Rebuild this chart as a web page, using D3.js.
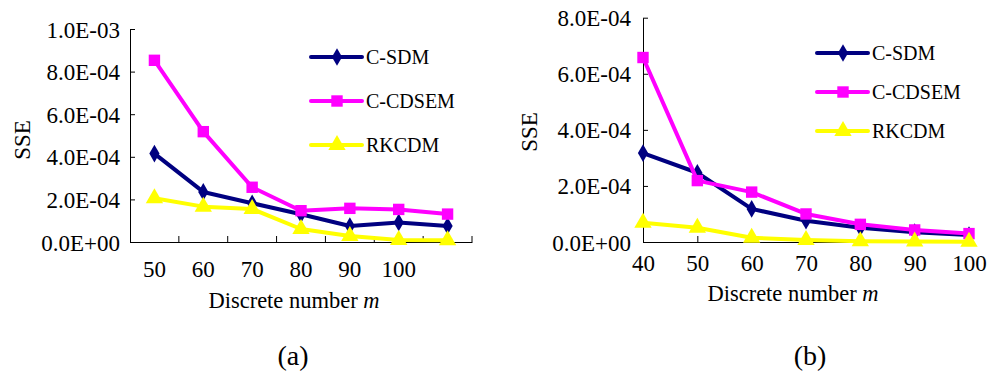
<!DOCTYPE html>
<html>
<head>
<meta charset="utf-8">
<script src="https://cdn.jsdelivr.net/npm/d3@7"></script>
<style>
  body { margin: 0; background: #fff; }
</style>
</head>
<body>
<svg id="chart" width="996" height="373"></svg>
<script>
// panel (a)
var catsA = ["50", "60", "70", "80", "90", "100", ""];
var sdmA = [4.15e-4, 2.35e-4, 1.82e-4, 1.30e-4, 0.75e-4, 0.92e-4, 0.75e-4];
var cdsemA = [8.53e-4, 5.18e-4, 2.57e-4, 1.47e-4, 1.58e-4, 1.53e-4, 1.31e-4];
var rkcdmA = [2.05e-4, 1.66e-4, 1.55e-4, 0.61e-4, 0.28e-4, 0.09e-4, 0.08e-4];
var yTicksA = [0, 2e-4, 4e-4, 6e-4, 8e-4, 1e-3];

// panel (b)
var catsB = [40, 50, 60, 70, 80, 90, 100];
var sdmB = [3.17e-4, 2.47e-4, 1.18e-4, 0.76e-4, 0.51e-4, 0.35e-4, 0.25e-4];
var cdsemB = [6.58e-4, 2.19e-4, 1.78e-4, 1.00e-4, 0.63e-4, 0.43e-4, 0.30e-4];
var rkcdmB = [0.69e-4, 0.51e-4, 0.15e-4, 0.07e-4, 0.03e-4, 0.02e-4, 0.01e-4];
var yTicksB = [0, 2e-4, 4e-4, 6e-4, 8e-4];

var seriesNames = ["C-SDM", "C-CDSEM", "RKCDM"];
var colors = ["#000080", "#ff00ff", "#ffff00"];
var symbols = [d3.symbolDiamond, d3.symbolSquare, d3.symbolTriangle];
var symSizes = [90, 130, 130];
var ff = "'Liberation Serif', 'Times New Roman', serif";

var svg = d3.select("#chart");

function sciFmt(v) {
  if (v === 0) return "0.0E+00";
  var e = Math.floor(Math.log10(v) + 1e-9);
  var m = v / Math.pow(10, e);
  var es = (e < 0 ? "-" : "+") + (Math.abs(e) < 10 ? "0" : "") + Math.abs(e);
  return m.toFixed(1) + "E" + es;
}

function drawPanel(p) {
  var g = svg.append("g");
  var y = d3.scaleLinear().domain([0, p.yMax]).range([242, p.yTop]);

  // y axis
  var yAx = g.append("g")
    .attr("transform", "translate(" + p.x0 + ",0)")
    .call(d3.axisLeft(y).tickValues(p.yTicks).tickSizeInner(-5).tickSizeOuter(0).tickPadding(p.yPad).tickFormat(sciFmt));
  yAx.selectAll("text").style("font-size", "23px").style("font-family", ff).attr("dy", "0.35em");

  // x axis
  var xAx = g.append("g").attr("transform", "translate(0,242)");
  if (p.band) {
    xAx.call(d3.axisBottom(p.x).tickSize(0).tickPadding(19));
    // inner ticks at band boundaries
    g.selectAll(".bt").data(p.cats)
      .enter().append("line")
      .attr("x1", function(d, i) { return p.x.range()[0] + p.x.step() * (i + 1); })
      .attr("x2", function(d, i) { return p.x.range()[0] + p.x.step() * (i + 1); })
      .attr("y1", 242).attr("y2", 236)
      .attr("stroke", "#000");
  } else {
    xAx.call(d3.axisBottom(p.x).tickSizeInner(-6).tickSizeOuter(0).tickPadding(13));
  }
  xAx.selectAll("text").style("font-size", "23px").style("font-family", ff);
  g.selectAll(".domain").attr("stroke", "#000");

  var cx = function(i) {
    return p.band ? p.x(p.cats[i]) + p.x.bandwidth() / 2 : p.x(p.cats[i]);
  };

  var line = d3.line().x(function(d, i) { return cx(i); }).y(function(d) { return y(d); });

  p.series.forEach(function(s, k) {
    g.append("path").datum(s)
      .attr("d", line)
      .attr("fill", "none")
      .attr("stroke", colors[k])
      .attr("stroke-width", 4)
      .attr("stroke-linejoin", "round");
    g.selectAll(".m" + k).data(s).enter().append("path")
      .attr("d", d3.symbol().type(symbols[k]).size(symSizes[k]))
      .attr("transform", function(d, i) { return "translate(" + cx(i) + "," + y(d) + ")"; })
      .attr("fill", colors[k]);
  });

  // legend
  seriesNames.forEach(function(n, k) {
    var ly = p.legY[k];
    g.append("line")
      .attr("x1", p.legX).attr("x2", p.legX + 51)
      .attr("y1", ly).attr("y2", ly)
      .attr("stroke", colors[k]).attr("stroke-width", 4).attr("stroke-linecap", "round");
    g.append("path")
      .attr("d", d3.symbol().type(symbols[k]).size(symSizes[k]))
      .attr("transform", "translate(" + (p.legX + 26) + "," + ly + ")")
      .attr("fill", colors[k]);
    g.append("text")
      .attr("x", p.legX + 55).attr("y", ly).attr("dy", "0.35em")
      .style("font-size", "20px").style("font-family", ff)
      .text(n);
  });

  // axis titles
  g.append("text")
    .attr("transform", "translate(" + p.sseX + "," + p.sseY + ") rotate(-90)")
    .attr("text-anchor", "middle").attr("dy", "0.35em")
    .style("font-size", "23px").style("font-family", ff)
    .text("SSE");
  var t = g.append("text")
    .attr("x", p.titleX).attr("y", p.titleY).attr("dy", "0.35em")
    .attr("text-anchor", "middle")
    .style("font-size", "22.5px").style("font-family", ff);
  t.append("tspan").text("Discrete number ");
  t.append("tspan").style("font-style", "italic").text("m");

  g.append("text")
    .attr("x", p.capX).attr("y", 355).attr("dy", "0.35em")
    .attr("text-anchor", "middle")
    .style("font-size", "28px").style("font-family", ff)
    .text(p.cap);
}

drawPanel({
  band: true,
  cats: catsA,
  x: d3.scaleBand().domain(catsA).range([130, 472]),
  x0: 130, yPad: 10,
  yMax: 1e-3, yTop: 29, yTicks: yTicksA,
  series: [sdmA, cdsemA, rkcdmA],
  legX: 311, legY: [57, 101, 145],
  sseX: 22, sseY: 140,
  titleX: 294, titleY: 300,
  capX: 293, cap: "(a)"
});

drawPanel({
  band: false,
  cats: catsB,
  x: d3.scalePoint().domain(catsB).range([643, 969]),
  x0: 643, yPad: 12,
  yMax: 8e-4, yTop: 17.7, yTicks: yTicksB,
  series: [sdmB, cdsemB, rkcdmB],
  legX: 817, legY: [53, 92, 131],
  sseX: 529, sseY: 132,
  titleX: 793, titleY: 293,
  capX: 810, cap: "(b)"
});
</script>
</body>
</html>
